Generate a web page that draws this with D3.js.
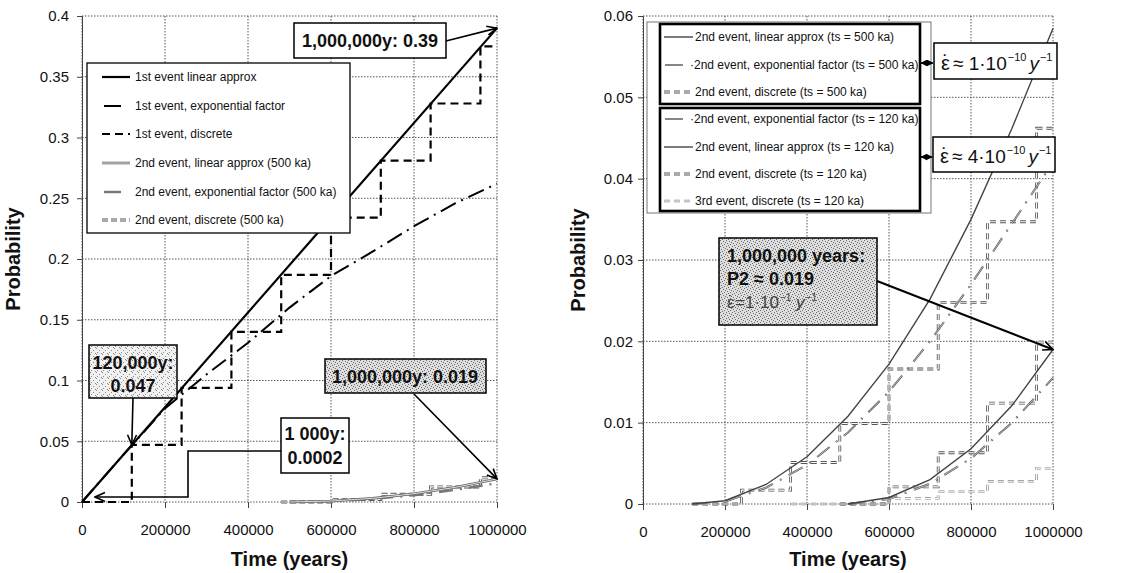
<!DOCTYPE html>
<html><head><meta charset="utf-8">
<script src="https://cdn.jsdelivr.net/npm/d3@7"></script>
<style>
body{margin:0;background:#fff}
svg{display:block}
text{font-family:"Liberation Sans",Arial,sans-serif}
</style></head><body>
<svg id="c" width="1144" height="573"></svg>
<script>
// ---------------- DATA ----------------
const xTickValues = [0, 200000, 400000, 600000, 800000, 1000000];
const xTickLabels = ["0", "200000", "400000", "600000", "800000", "1000000"];
const leftYTicks = [0, 0.05, 0.1, 0.15, 0.2, 0.25, 0.3, 0.35, 0.4];
const leftYTickLabels = ["0", "0.05", "0.1", "0.15", "0.2", "0.25", "0.3", "0.35", "0.4"];
const rightYTicks = [0, 0.01, 0.02, 0.03, 0.04, 0.05, 0.06];
const rightYTickLabels = ["0", "0.01", "0.02", "0.03", "0.04", "0.05", "0.06"];

// Left panel: 1st event
const firstLinT = [0, 1000000];
const firstLinP = [0, 0.39];
const firstExpT = [0, 100000, 200000, 300000, 400000, 500000, 600000, 700000, 800000, 900000, 1000000];
const firstExpP = [0, 0.039, 0.077, 0.105, 0.131, 0.160, 0.186, 0.206, 0.227, 0.246, 0.262];
const firstDiscT = [0, 120000, 240000, 360000, 480000, 600000, 720000, 840000, 960000, 1000000];
const firstDiscP = [0, 0.047, 0.094, 0.140, 0.187, 0.234, 0.281, 0.328, 0.375, 0.375];

// 2nd event, ts = 500 ka
const r500LinT = [500000, 600000, 700000, 800000, 900000, 1000000];
const r500LinP = [0, 0.0008, 0.0030, 0.0068, 0.0121, 0.0190];
const r500ExpT = [500000, 600000, 700000, 800000, 900000, 1000000];
const r500ExpP = [0, 0.0006, 0.0025, 0.0056, 0.0100, 0.0155];
const r500DiscT = [480000, 600000, 720000, 840000, 960000, 1000000];
const r500DiscP = [0, 0.0021, 0.0063, 0.0124, 0.0199, 0.0199];

// 2nd event, ts = 120 ka
const r120LinT = [120000, 200000, 300000, 400000, 500000, 600000, 700000, 800000, 900000, 1000000];
const r120LinP = [0, 0.0004, 0.0024, 0.0058, 0.0108, 0.0172, 0.0252, 0.0350, 0.0462, 0.0585];
const r120ExpT = [120000, 200000, 300000, 400000, 500000, 600000, 700000, 800000, 900000, 1000000];
const r120ExpP = [0, 0.0003, 0.0020, 0.0048, 0.0088, 0.0138, 0.0200, 0.0270, 0.0345, 0.0420];
const r120DiscT = [120000, 240000, 360000, 480000, 600000, 720000, 840000, 960000, 1000000];
const r120DiscP = [0, 0.0017, 0.0051, 0.0099, 0.0166, 0.0248, 0.0347, 0.0462, 0.0462];

// 3rd event, ts = 120 ka
const r3rdDiscT = [360000, 600000, 720000, 840000, 960000, 1000000];
const r3rdDiscP = [0, 0.0007, 0.0015, 0.0028, 0.0044, 0.0044];

const leftLegendLabels = ["1st event linear approx", "1st event, exponential factor", "1st event, discrete",
  "2nd event, linear approx (500 ka)", "2nd event, exponential factor (500 ka)", "2nd event, discrete (500 ka)"];
const rightLegendLabels = ["2nd event, linear approx (ts = 500 ka)", "\u00b72nd event, exponential factor (ts = 500 ka)",
  "2nd event, discrete (ts = 500 ka)", "\u00b72nd event, exponential factor (ts = 120 ka)",
  "2nd event, linear approx (ts = 120 ka)", "2nd event, discrete (ts = 120 ka)", "3rd event, discrete (ts = 120 ka)"];

// ---------------- CHART ----------------
const svg = d3.select("#c");
const defs = svg.append("defs");
const SERIF = "Liberation Serif, Times New Roman, serif";

function stipple(id, bg, dot, dots) {
  const p = defs.append("pattern").attr("id", id).attr("width", 6).attr("height", 6)
    .attr("patternUnits", "userSpaceOnUse");
  p.append("rect").attr("width", 6).attr("height", 6).attr("fill", bg);
  dots.forEach(d => p.append("rect").attr("x", d[0]).attr("y", d[1]).attr("width", 1).attr("height", 1).attr("fill", dot));
}
stipple("stipLight", "#f1f1f1", "#8a8a8a", [[0, 0], [3, 2], [1, 4], [5, 5]]);
stipple("stipDark", "#dedede", "#6a6a6a", [[0, 0], [3, 1], [1, 3], [4, 4], [2, 5], [5, 2]]);

defs.append("marker").attr("id", "arr").attr("viewBox", "0 0 12 12").attr("refX", 11).attr("refY", 6)
  .attr("markerWidth", 12).attr("markerHeight", 12).attr("markerUnits", "userSpaceOnUse")
  .attr("orient", "auto-start-reverse")
  .append("path").attr("d", "M1,1.5 L11,6 L1,10.5").attr("fill", "none").attr("stroke", "#000").attr("stroke-width", 1.6);
defs.append("marker").attr("id", "arrs").attr("viewBox", "0 0 10 10").attr("refX", 9).attr("refY", 5)
  .attr("markerWidth", 7).attr("markerHeight", 7).attr("markerUnits", "userSpaceOnUse")
  .attr("orient", "auto-start-reverse")
  .append("path").attr("d", "M0,0 L10,5 L0,10 z").attr("fill", "#000");

const xL = d3.scaleLinear().domain([0, 1000000]).range([82, 497]);
const yL = d3.scaleLinear().domain([0, 0.4]).range([502, 16]);
const xR = d3.scaleLinear().domain([0, 1000000]).range([643, 1053]);
const yR = d3.scaleLinear().domain([0, 0.06]).range([504, 16]);

function drawFrame(x, y, yTicks, yLabels, yPad, titleX) {
  const g = svg.append("g");
  const [y0, y1] = y.range();
  const [x0, x1] = x.range();
  g.selectAll(".vg").data(xTickValues).join("line")
    .attr("x1", d => x(d)).attr("x2", d => x(d)).attr("y1", y1).attr("y2", y0)
    .attr("stroke", "#555").attr("stroke-width", 1).attr("stroke-dasharray", "1.5,1.5");
  g.selectAll(".hg").data(yTicks).join("line")
    .attr("x1", x0).attr("x2", x1).attr("y1", d => y(d)).attr("y2", d => y(d))
    .attr("stroke", "#555").attr("stroke-width", 1).attr("stroke-dasharray", "1.5,1.5");
  const ay = svg.append("g").attr("transform", `translate(${x0},0)`)
    .call(d3.axisLeft(y).tickValues(yTicks).tickFormat((d, i) => yLabels[i]).tickSize(5).tickPadding(yPad));
  ay.select(".domain").attr("stroke", "#444");
  ay.selectAll(".tick line").attr("stroke", "#444");
  ay.selectAll("text").attr("font-size", 15).attr("fill", "#111").attr("font-family", "Liberation Sans, Arial, sans-serif");
  const ax = svg.append("g").attr("transform", `translate(0,${y(0)})`)
    .call(d3.axisBottom(x).tickValues(xTickValues).tickFormat((d, i) => xTickLabels[i]).tickSize(6).tickPadding(16));
  ax.select(".domain").remove();
  ax.selectAll(".tick line").attr("stroke", "#444");
  ax.selectAll("text").attr("font-size", 15).attr("fill", "#111").attr("font-family", "Liberation Sans, Arial, sans-serif");
  svg.append("text").attr("x", (x0 + x1) / 2).attr("y", 566).attr("text-anchor", "middle")
    .attr("font-size", 20).attr("font-weight", "bold").attr("fill", "#111").text("Time (years)");
  svg.append("text").attr("transform", `translate(${titleX},${(y0 + y1) / 2}) rotate(-90)`)
    .attr("text-anchor", "middle").attr("font-size", 20).attr("font-weight", "bold").attr("fill", "#111").text("Probability");
}

function series(x, y, T, P, step) {
  const line = d3.line().x(d => x(d[0])).y(d => y(d[1]));
  if (step) line.curve(d3.curveStepAfter);
  return line(d3.zip(T, P));
}

// style helpers (hollow = dark outer stroke + white inner stroke)
function drawPath(d, st) {
  svg.append("path").attr("d", d).attr("fill", "none").attr("stroke", st.c).attr("stroke-width", st.w)
    .attr("stroke-dasharray", st.dash || null).attr("stroke-linejoin", "miter");
  if (st.hollow) {
    svg.append("path").attr("d", d).attr("fill", "none").attr("stroke", "#fff").attr("stroke-width", st.hollow)
      .attr("stroke-dasharray", st.dash || null);
  }
}

const S = {
  lin1: { c: "#000", w: 2.2 },
  exp1: { c: "#000", w: 2, dash: "17,6,2,6" },
  disc1: { c: "#000", w: 2.2, dash: "8,5" },
  lin2: { c: "#666", w: 2.6, hollow: 0.8 },
  exp2: { c: "#777", w: 2.4, dash: "14,7,2,7" },
  disc2: { c: "#555", w: 3, dash: "6,3", hollow: 1.2 },
  rLin: { c: "#444", w: 1.4 },
  rExp: { c: "#555", w: 2, dash: "16,8,2,8", hollow: 0.6 },
  rDisc: { c: "#555", w: 2.8, dash: "6,4", hollow: 1.1 },
  rDisc3: { c: "#888", w: 2.6, dash: "6,4", hollow: 1.2 }
};

// ---------- LEFT PANEL ----------
drawFrame(xL, yL, leftYTicks, leftYTickLabels, 8, 20);
drawPath(series(xL, yL, r500DiscT, r500DiscP, true), S.disc2);
drawPath(series(xL, yL, r500ExpT, r500ExpP), S.exp2);
drawPath(series(xL, yL, r500LinT, r500LinP), S.lin2);
drawPath(series(xL, yL, firstExpT, firstExpP), S.exp1);
drawPath(series(xL, yL, firstDiscT, firstDiscP, true), S.disc1);
drawPath(series(xL, yL, firstLinT, firstLinP), S.lin1);

// left legend
svg.append("rect").attr("x", 87).attr("y", 63).attr("width", 263).attr("height", 170)
  .attr("fill", "#fff").attr("stroke", "#000").attr("stroke-width", 1.3);
const leftStyles = [S.lin1, S.exp1, S.disc1, S.lin2, S.exp2, S.disc2];
const leftRows = [77, 106, 134, 163, 192, 220];
leftLegendLabels.forEach((lab, i) => {
  const st = leftStyles[i];
  let x1 = 102, x2 = 130;
  if (i === 1 || i === 4) { x1 = 104; x2 = 121; }
  const dd = `M${x1},${leftRows[i]}H${x2}`;
  drawPath(dd, Object.assign({}, st, { dash: (i === 1 || i === 4) ? null : st.dash }));
  svg.append("text").attr("x", 135).attr("y", leftRows[i] + 4).attr("font-size", 12).attr("fill", "#111").text(lab);
});

// left annotations
function box(x, y, w, h, fill, sw) {
  svg.append("rect").attr("x", x).attr("y", y).attr("width", w).attr("height", h)
    .attr("fill", fill).attr("stroke", "#000").attr("stroke-width", sw || 1.5);
}
function btext(x, y, s, size) {
  return svg.append("text").attr("x", x).attr("y", y).attr("text-anchor", "middle").attr("font-size", size || 18)
    .attr("font-weight", "bold").attr("fill", "#111").text(s);
}
function arrow(x1, y1, x2, y2, m, w) {
  svg.append("line").attr("x1", x1).attr("y1", y1).attr("x2", x2).attr("y2", y2)
    .attr("stroke", "#000").attr("stroke-width", w || 1.6).attr("marker-end", `url(#${m || "arr"})`);
}

box(294, 23, 152, 35, "#fff");
btext(370, 47, "1,000,000y: 0.39");
arrow(446, 41, xL(1000000), yL(0.39));

box(89, 345, 88, 53, "url(#stipLight)");
btext(133, 369, "120,000y:");
btext(133, 392, "0.047");
arrow(133, 398, xL(120000), yL(0.047));

box(325, 359, 161, 34, "url(#stipDark)");
btext(405, 383, "1,000,000y: 0.019");
arrow(414, 394, xL(1000000), yL(0.019));

box(281, 418, 68, 55, "#fff");
btext(315, 440, "1 000y:");
btext(315, 464, "0.0002");
svg.append("path").attr("d", "M281,451H188V497H95").attr("fill", "none").attr("stroke", "#000")
  .attr("stroke-width", 1.6).attr("marker-end", "url(#arr)");

// ---------- RIGHT PANEL ----------
drawFrame(xR, yR, rightYTicks, rightYTickLabels, 5, 585);
drawPath(series(xR, yR, r3rdDiscT, r3rdDiscP, true), S.rDisc3);
drawPath(series(xR, yR, r500DiscT, r500DiscP, true), S.rDisc);
drawPath(series(xR, yR, r120DiscT, r120DiscP, true), S.rDisc);
drawPath(series(xR, yR, r500ExpT, r500ExpP), S.rExp);
drawPath(series(xR, yR, r120ExpT, r120ExpP), S.rExp);
drawPath(series(xR, yR, r500LinT, r500LinP), S.rLin);
drawPath(series(xR, yR, r120LinT, r120LinP), S.rLin);

// right legend
svg.append("rect").attr("x", 647).attr("y", 22).attr("width", 284).attr("height", 191)
  .attr("fill", "#fff").attr("stroke", "#777").attr("stroke-width", 1);
svg.append("rect").attr("x", 660).attr("y", 24).attr("width", 260).attr("height", 80)
  .attr("fill", "none").attr("stroke", "#000").attr("stroke-width", 2.6);
svg.append("rect").attr("x", 660).attr("y", 108).attr("width", 260).attr("height", 103)
  .attr("fill", "none").attr("stroke", "#000").attr("stroke-width", 2.6);
const rightStyles = [S.rLin, S.rExp, S.rDisc, S.rExp, S.rLin, S.rDisc, S.rDisc3];
const rightRows = [37, 65, 92, 119, 147, 174, 201];
rightLegendLabels.forEach((lab, i) => {
  const st = rightStyles[i];
  const isExp = (i === 1 || i === 3);
  const dd = isExp ? `M665,${rightRows[i]}H683` : `M664,${rightRows[i]}H693`;
  drawPath(dd, Object.assign({}, st, isExp ? { dash: null } : {}));
  svg.append("text").attr("x", isExp ? 690 : 695).attr("y", rightRows[i] + 4).attr("font-size", 12).attr("fill", "#111").text(lab);
});

// epsilon with dot above (epsilon-dot = strain rate)
function epsDot(x, y, size, fill) {
  svg.append("text").attr("x", x).attr("y", y).attr("font-size", size).attr("fill", fill)
    .attr("font-family", SERIF).text("\u03b5");
  svg.append("text").attr("x", x + size * 0.23).attr("y", y - size * 0.05).attr("text-anchor", "middle")
    .attr("font-size", size).attr("fill", fill).attr("font-family", SERIF).text("\u02d9");
}

function epsBox(x, y, w, h, coef) {
  box(x, y, w, h, "#fff", 1.5);
  const by = y + h - 9;
  epsDot(x + 7, by, 20, "#111");
  const t = svg.append("text").attr("x", x + 19).attr("y", by).attr("font-size", 19).attr("fill", "#111")
    .attr("font-family", SERIF);
  t.append("tspan").text("\u2248 " + coef + "\u00b710");
  t.append("tspan").attr("font-size", 11).attr("dx", 1).attr("dy", -9).text("\u221210");
  t.append("tspan").attr("dx", 3).attr("dy", 9).attr("font-style", "italic").text("y");
  t.append("tspan").attr("font-size", 11).attr("dx", 1).attr("dy", -9).text("\u22121");
}
epsBox(934, 43, 123, 36, "1");
epsBox(933, 137, 122, 35, "4");
svg.append("line").attr("x1", 921).attr("y1", 63).attr("x2", 933).attr("y2", 63).attr("stroke", "#000")
  .attr("stroke-width", 1.5).attr("marker-start", "url(#arrs)").attr("marker-end", "url(#arrs)");
svg.append("line").attr("x1", 921).attr("y1", 157).attr("x2", 932).attr("y2", 157).attr("stroke", "#000")
  .attr("stroke-width", 1.5).attr("marker-start", "url(#arrs)").attr("marker-end", "url(#arrs)");

// P2 box
box(719, 238, 158, 87, "url(#stipDark)");
svg.append("text").attr("x", 727).attr("y", 262).attr("font-size", 18).attr("font-weight", "bold").attr("fill", "#111").text("1,000,000 years:");
svg.append("text").attr("x", 727).attr("y", 285).attr("font-size", 18).attr("font-weight", "bold").attr("fill", "#111").text("P2 \u2248 0.019");
epsDot(727, 308, 17, "#444");
const t3 = svg.append("text").attr("x", 735).attr("y", 308).attr("font-size", 17).attr("fill", "#444")
  .attr("font-family", SERIF);
t3.append("tspan").text("=1\u00b710");
t3.append("tspan").attr("font-size", 10).attr("dx", 1).attr("dy", -7).text("\u22121");
t3.append("tspan").attr("dy", 7).attr("font-style", "italic").text(" y");
t3.append("tspan").attr("font-size", 10).attr("dx", 1).attr("dy", -7).text("\u22121");
arrow(877, 281, xR(1000000), yR(0.019), "arr", 2);
</script>
</body></html>
